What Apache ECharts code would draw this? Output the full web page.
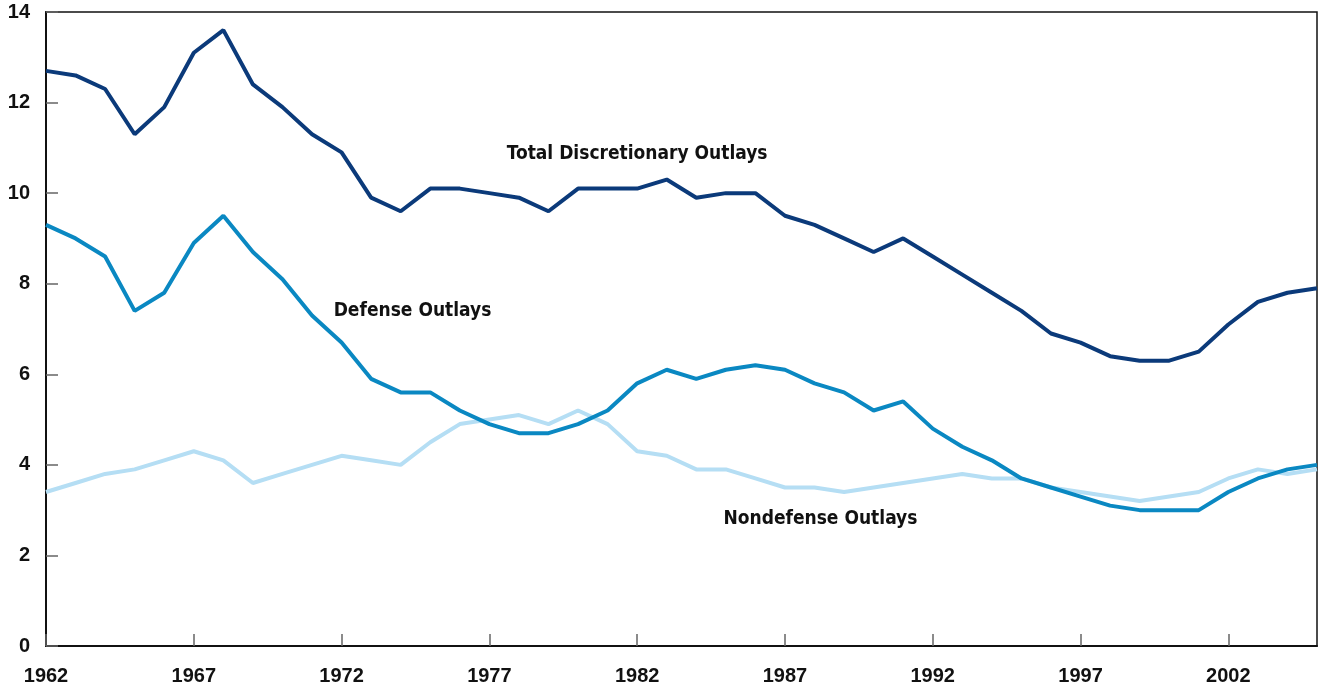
<!doctype html>
<html>

<head>
    <meta charset="utf-8">
    <title>Discretionary Outlays</title>
    <script src="https://cdn.jsdelivr.net/npm/echarts@6/dist/echarts.min.js"></script>
    <style>
        html, body { margin: 0; padding: 0; background: #fff; }
    </style>
</head>

<body>
    <div id="container" style="width:1319px;height:690px;"></div>

    <script type="text/javascript">
        // 年份
        var years = [];
        for (var y = 1962; y <= 2005; y++) years.push(y);

        // 三条线的数值（占GDP百分比）
        var totalOutlays = [12.7, 12.6, 12.3, 11.3, 11.9, 13.1, 13.6, 12.4, 11.9, 11.3,
            10.9, 9.9, 9.6, 10.1, 10.1, 10.0, 9.9, 9.6, 10.1, 10.1,
            10.1, 10.3, 9.9, 10.0, 10.0, 9.5, 9.3, 9.0, 8.7, 9.0,
            8.6, 8.2, 7.8, 7.4, 6.9, 6.7, 6.4, 6.3, 6.3, 6.5,
            7.1, 7.6, 7.8, 7.9];
        var defenseOutlays = [9.3, 9.0, 8.6, 7.4, 7.8, 8.9, 9.5, 8.7, 8.1, 7.3,
            6.7, 5.9, 5.6, 5.6, 5.2, 4.9, 4.7, 4.7, 4.9, 5.2,
            5.8, 6.1, 5.9, 6.1, 6.2, 6.1, 5.8, 5.6, 5.2, 5.4,
            4.8, 4.4, 4.1, 3.7, 3.5, 3.3, 3.1, 3.0, 3.0, 3.0,
            3.4, 3.7, 3.9, 4.0];
        var nondefenseOutlays = [3.4, 3.6, 3.8, 3.9, 4.1, 4.3, 4.1, 3.6, 3.8, 4.0,
            4.2, 4.1, 4.0, 4.5, 4.9, 5.0, 5.1, 4.9, 5.2, 4.9,
            4.3, 4.2, 3.9, 3.9, 3.7, 3.5, 3.5, 3.4, 3.5, 3.6,
            3.7, 3.8, 3.7, 3.7, 3.5, 3.4, 3.3, 3.2, 3.3, 3.4,
            3.7, 3.9, 3.8, 3.9];

        // 刻度标签
        var xTickLabels = [1962, 1967, 1972, 1977, 1982, 1987, 1992, 1997, 2002];
        var yTickLabels = [0, 2, 4, 6, 8, 10, 12, 14];

        // 线上的文字说明（年份, 数值）
        var seriesNames = ['Total Discretionary Outlays', 'Defense Outlays', 'Nondefense Outlays'];
        var labelAnchors = [[1982, 10.86], [1974.4, 7.4], [1988.2, 2.8]];

        var axisFont = "'Liberation Sans', Arial, sans-serif";
        var noteFont = "'Liberation Sans Narrow', 'DejaVu Sans Condensed', sans-serif";
        var colors = ['#0b3a7a', '#0a88c2', '#b5def4'];

        function pairs(arr) {
            return arr.map(function (v, i) { return [years[i], v]; });
        }

        function makeSeries(idx, values) {
            return {
                name: seriesNames[idx],
                type: 'line',
                data: pairs(values),
                symbol: 'none',
                z: 10 - idx,
                lineStyle: { color: colors[idx], width: 4 },
                markPoint: {
                    symbol: 'circle',
                    symbolSize: 0,
                    silent: true,
                    label: {
                        show: true,
                        formatter: seriesNames[idx],
                        color: '#111',
                        fontSize: 19,
                        fontWeight: 'bold',
                        fontFamily: noteFont
                    },
                    data: [{ coord: labelAnchors[idx] }]
                }
            };
        }

        var option = {
            animation: false,
            grid: {
                left: 46, right: 2, top: 12, bottom: 44,
                show: true,
                borderColor: '#111',
                borderWidth: 1.5
            },
            xAxis: {
                type: 'value',
                min: 1962,
                max: 2005,
                splitLine: { show: false },
                axisLine: { lineStyle: { color: '#111', width: 2 } },
                axisTick: {
                    show: true,
                    inside: true,
                    length: 12,
                    customValues: xTickLabels,
                    lineStyle: { color: '#666', width: 1.5 }
                },
                axisLabel: {
                    customValues: xTickLabels,
                    formatter: function (v) { return String(v); },
                    color: '#111',
                    fontSize: 20,
                    fontWeight: 'bold',
                    fontFamily: axisFont,
                    margin: 20
                }
            },
            yAxis: {
                type: 'value',
                min: 0,
                max: 14,
                interval: 2,
                splitLine: { show: false },
                axisLine: { show: true, lineStyle: { color: '#111', width: 2 } },
                axisTick: {
                    show: true,
                    inside: true,
                    length: 12,
                    lineStyle: { color: '#666', width: 1.5 }
                },
                axisLabel: {
                    customValues: yTickLabels,
                    color: '#111',
                    fontSize: 20,
                    fontWeight: 'bold',
                    fontFamily: axisFont,
                    margin: 16
                }
            },
            series: [
                makeSeries(0, totalOutlays),
                makeSeries(1, defenseOutlays),
                makeSeries(2, nondefenseOutlays)
            ]
        };

        var myChart = echarts.init(document.getElementById('container'));
        myChart.setOption(option);
    </script>
</body>

</html>
